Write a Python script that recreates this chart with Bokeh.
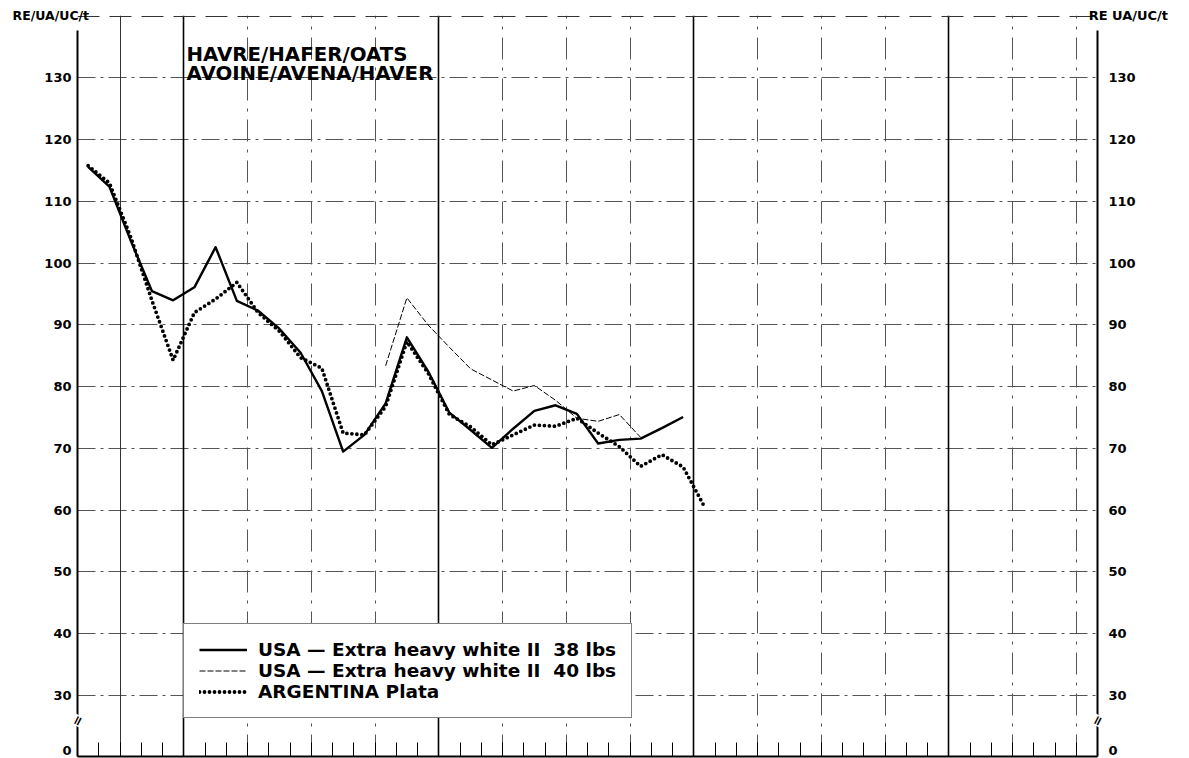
from bokeh.plotting import figure
from bokeh.models import Range1d, FixedTicker, LinearAxis, Grid, Label, Legend, LegendItem
from bokeh.embed import file_html
from bokeh.resources import INLINE

# ---------------- data (RE/UA/UC per tonne, monthly, plotted at mid-month) ----------------
usa38_first_month = 0
usa38_values = [115.6, 112.4, 103.7, 95.5, 94.0, 96.1, 102.6, 93.9, 92.3, 89.4,
                85.5, 79.3, 69.5, 72.2, 77.3, 88.0, 82.5, 75.8, 73.0, 70.1,
                73.2, 76.1, 77.0, 75.6, 70.8, 71.4, 71.6, 73.3, 75.1]

usa40_first_month = 14
usa40_values = [83.4, 94.4, 90.0, 86.4, 82.9, 81.1, 79.3, 80.2, 77.8, 74.9,
                74.4, 75.5, 71.8]

argentina_first_month = 0
argentina_values = [115.8, 113.0, 104.3, 94.0, 84.3, 92.0, 94.2, 96.9, 92.0, 89.0,
                    84.7, 83.0, 72.5, 72.2, 76.8, 87.3, 82.2, 75.5, 73.5, 70.6,
                    72.2, 73.8, 73.6, 74.9, 72.5, 70.3, 67.1, 69.0, 67.0, 60.6]

n_months = 48
month_ticks = list(range(1, n_months))
solid_quarter_months = [2]
quarter_months = [8, 11, 14, 20, 23, 26, 32, 35, 38, 44, 47]
year_months = [5, 17, 29, 41]
y_tick_values = [30, 40, 50, 60, 70, 80, 90, 100, 110, 120, 130]
zero_label_pos = 21.1        # axis is broken below 30; "0" is printed here
y_bottom, y_top = 20.12, 140.12
top_line_value = 140.0
axis_top_value = 137.7

legend_labels = ["USA \u2014 Extra heavy white II\u00a0 38 lbs",
                 "USA \u2014 Extra heavy white II\u00a0 40 lbs",
                 "ARGENTINA Plata"]
title_lines = ["HAVRE/HAFER/OATS", "AVOINE/AVENA/HAVER"]
unit_left = "RE/UA/UC/t"
unit_right = "RE UA/UC/t"

FONT = "DejaVu Sans"
W, H = 1189, 758

x38 = [usa38_first_month + i + 0.5 for i in range(len(usa38_values))]
x40 = [usa40_first_month + i + 0.5 for i in range(len(usa40_values))]
xarg = [argentina_first_month + i + 0.5 for i in range(len(argentina_values))]

p = figure(width=W, height=H,
           x_range=Range1d(0, n_months), y_range=Range1d(y_bottom, y_top),
           x_axis_type=None, y_axis_type=None,
           output_backend="svg", toolbar_location=None,
           min_border_left=77, min_border_right=92, min_border_top=15, min_border_bottom=2)
p.outline_line_color = None
p.background_fill_color = "white"
p.border_fill_color = "white"

# ---------------- grids ----------------
p.add_layout(Grid(dimension=1, ticker=FixedTicker(ticks=y_tick_values),
                  grid_line_color="#555555", grid_line_width=1, grid_line_dash="18 5 3 5"))
p.add_layout(Grid(dimension=0, ticker=FixedTicker(ticks=quarter_months),
                  grid_line_color="#555555", grid_line_width=1, grid_line_dash="22 8 3 8"))
p.add_layout(Grid(dimension=0, ticker=FixedTicker(ticks=solid_quarter_months),
                  grid_line_color="#333333", grid_line_width=1))
p.add_layout(Grid(dimension=0, ticker=FixedTicker(ticks=year_months),
                  grid_line_color="black", grid_line_width=1.6))
p.add_layout(Grid(dimension=1, ticker=FixedTicker(ticks=[top_line_value]),
                  grid_line_color="#333333", grid_line_width=1, grid_line_dash="22 10"))

# ---------------- axes ----------------
xaxis = LinearAxis(ticker=FixedTicker(ticks=month_ticks),
                   major_label_text_font_size="1px", major_label_text_color=None,
                   major_label_standoff=0,
                   major_tick_in=14, major_tick_out=0, major_tick_line_width=1,
                   minor_tick_line_color=None, axis_line_width=2)
p.add_layout(xaxis, "below")


def make_yaxis(standoff):
    return LinearAxis(ticker=FixedTicker(ticks=[zero_label_pos] + y_tick_values),
                      major_label_overrides={zero_label_pos: "0"},
                      bounds=(y_bottom, axis_top_value),
                      axis_line_width=2, major_tick_in=0, major_tick_out=0,
                      minor_tick_line_color=None, major_label_standoff=standoff,
                      major_label_text_font=FONT, major_label_text_font_style="bold",
                      major_label_text_font_size="13px", major_label_text_color="black")


p.add_layout(make_yaxis(6), "left")
right_axis = make_yaxis(11)
right_axis.axis_label = unit_right
right_axis.axis_label_orientation = "horizontal"
right_axis.axis_label_align = "end"
right_axis.axis_label_standoff = -50
right_axis.axis_label_text_font = FONT
right_axis.axis_label_text_font_style = "bold"
right_axis.axis_label_text_font_size = "13px"
right_axis.axis_label_text_color = "black"
p.add_layout(right_axis, "right")

# ---------------- series ----------------
r38 = p.line(x38, usa38_values, line_color="black", line_width=2.4, line_join="round")
r40 = p.line(x40, usa40_values, line_color="black", line_width=1, line_dash="6 2")
rarg = p.line(xarg, argentina_values, line_color="black", line_width=3.8,
              line_dash="0 5", line_cap="round")

legend = Legend(items=[LegendItem(label=legend_labels[0], renderers=[r38]),
                       LegendItem(label=legend_labels[1], renderers=[r40]),
                       LegendItem(label=legend_labels[2], renderers=[rarg])],
                location=(106, 38), orientation="vertical",
                border_line_color="black", border_line_width=1.5,
                background_fill_color="white", background_fill_alpha=1,
                label_text_font=FONT, label_text_font_style="bold",
                label_text_font_size="18.5px", label_text_color="black",
                glyph_width=48, glyph_height=21, label_height=21,
                label_standoff=11, spacing=0, padding=15, margin=0)
p.add_layout(legend)

# ---------------- texts ----------------
for txt, yv in zip(title_lines, [133.885, 130.73]):
    p.add_layout(Label(x=5.13, y=yv, text=txt, text_font=FONT, text_font_style="bold",
                       text_font_size="19.8px", text_color="black",
                       text_align="left", text_baseline="middle"))

# unit label at top-left, in the panel above the frame so that it is not clipped
p.add_layout(Label(x=12, y=14.5, x_units="canvas", y_units="canvas",
                   text=unit_left, text_font=FONT, text_font_style="bold",
                   text_font_size="12.5px", text_color="black",
                   text_align="left", text_baseline="middle"), "above")

# axis-break marks
for xb, side in [(77, "left"), (1097, "right")]:
    p.add_layout(Label(x=xb, y=720, x_units="canvas", y_units="canvas",
                       text="=", text_font=FONT, text_font_style="bold",
                       text_font_size="13px", text_color="black", angle=1.1,
                       text_align="center", text_baseline="middle",
                       background_fill_color="white"), side)

open("out.html", "w").write(file_html(p, INLINE))
